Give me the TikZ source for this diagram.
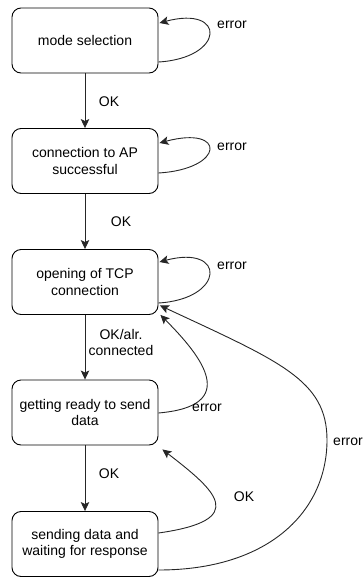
\documentclass[tikz,border=0pt]{standalone}
\usepackage{fontspec}
\setmainfont{Liberation Sans}
\usetikzlibrary{arrows.meta}
\begin{document}
\begin{tikzpicture}[x=1pt,y=-1pt,
  box/.style={draw=black, line width=0.9pt, rounded corners=9pt, minimum width=146pt, minimum height=65pt, align=center, inner sep=0pt, font=\fontsize{14}{16.5}\selectfont},
  lbl/.style={align=center, inner sep=0pt, font=\fontsize{14}{16.5}\selectfont},
  arr/.style={draw=black!85, line width=0.9pt, -{Stealth[length=9pt,width=8.5pt,inset=2pt]}}]
\useasboundingbox (0,0) rectangle (364,579);
\node[box] (b1) at (85,40.5) {mode selection};
\node[box] (b2) at (85,161) {connection to AP\\successful};
\node[box] (b3) at (85,282) {opening of TCP\\connection};
\node[box] (b4) at (85,412.5) {getting ready to send\\data};
\node[box] (b5) at (85,544) {sending data and\\waiting for response};
% vertical arrows
\draw[arr] (b1.south) -- (b2.north);
\draw[arr] (b2.south) -- (b3.north);
\draw[arr] (b3.south) -- (b4.north);
\draw[arr] (b4.south) -- (b5.north);
% self loops
\draw[arr] ([yshift=-21.5pt]b1.east) .. controls ++(67,-4) and ++(67,-18) .. ([xshift=1pt,yshift=17.5pt]b1.east);
\draw[arr] ([yshift=-12pt]b2.east) .. controls ++(67,-4) and ++(67,-18) .. ([xshift=1pt,yshift=18pt]b2.east);
\draw[arr] ([yshift=-21pt]b3.east) .. controls ++(67,-4) and ++(67,-18) .. ([xshift=1pt,yshift=20pt]b3.east);
% error from box 4 to box 3
\draw[arr] ([yshift=-0.5pt]b4.east) .. controls ++(82,-7) and ++(42,42) .. ([xshift=2pt,yshift=0pt]b3.south east);
% error from box 5 to box 3
\coordinate (m) at (327,440);
\draw[arr] ([yshift=-26pt]b5.east) .. controls ++(112,0) and ++(0,70) .. (m) .. controls ++(0,-60) and ++(120,56) .. ([xshift=1.5pt,yshift=9.5pt]b3.south east);
% OK from box 5 to box 4
\draw[arr] ([yshift=11pt]b5.east) .. controls ++(92,-13) and ++(53,41) .. ([xshift=4pt,yshift=-4pt]b4.south east);
% labels
\node[lbl] (l1) at (109,102) {OK};
\node[lbl] (l2) at (121,222) {OK};
\node[lbl] (l3) at (121,342.5) {OK/alr.\\connected};
\node[lbl] (l4) at (109,474) {OK};
\node[lbl] (l5) at (244,497) {OK};
\node[lbl] (e1) at (232,25) {error};
\node[lbl] (e2) at (232,147) {error};
\node[lbl] (e3) at (232,266) {error};
\node[lbl] (e4) at (207,408) {error};
\node[lbl] (e5) at (348,442) {error};
\end{tikzpicture}
\end{document}
